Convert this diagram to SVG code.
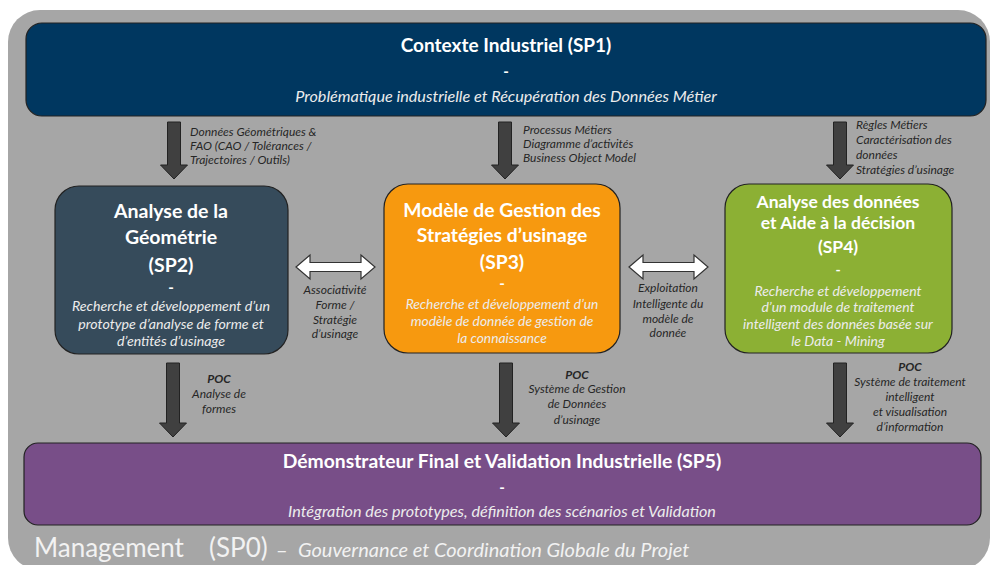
<svg xmlns="http://www.w3.org/2000/svg" width="992" height="565" viewBox="0 0 992 565">
<defs>
<style>
text{font-family:Lato,"Open Sans","Liberation Sans",sans-serif}
.box{stroke:#222;stroke-width:1.2}
.t{fill:#fff;font-weight:bold;text-anchor:middle}
.s{fill:#ececec;font-style:italic;text-anchor:middle}
.lab{fill:#262626;font-style:italic;font-size:12px}
.labc{fill:#262626;font-style:italic;font-size:12px;text-anchor:middle}
.down{fill:#404040;stroke:#222;stroke-width:1}
.dbl{fill:#fff;stroke:#333;stroke-width:1.2}
</style>
</defs>
<rect x="0" y="0" width="992" height="565" fill="#fff"/>
<rect x="8" y="10" width="982" height="560" rx="32" fill="#a6a6a6"/>

<g id="sp1">
<rect class="box" x="26" y="23" width="960" height="93" rx="16" fill="#003760"/>
<text class="t" x="506" y="52" font-size="19">Contexte Industriel (SP1)</text>
<text class="t" x="506" y="77" font-size="15">-</text>
<text class="s" x="506" y="102" font-size="16.2">Problématique industrielle et Récupération des Données Métier</text>
</g>

<g id="sp2">
<rect class="box" x="55" y="186" width="233" height="168" rx="24" fill="#364b5b"/>
<text class="t" x="171" y="218" font-size="19.5">Analyse de la</text>
<text class="t" x="171" y="244" font-size="19.5">Géométrie</text>
<text class="t" x="171" y="272" font-size="19.5">(SP2)</text>
<text class="t" x="171" y="293" font-size="15">-</text>
<text class="s" x="171" y="311" font-size="14.2">Recherche et développement d’un</text>
<text class="s" x="171" y="329" font-size="14.2">prototype d’analyse de forme et</text>
<text class="s" x="171" y="346" font-size="14.2">d’entités d’usinage</text>
</g>

<g id="sp3">
<rect class="box" x="384" y="184" width="236" height="169" rx="24" fill="#f7990f"/>
<text class="t" x="502" y="217" font-size="19.3">Modèle de Gestion des</text>
<text class="t" x="502" y="242" font-size="19.3">Stratégies d’usinage</text>
<text class="t" x="502" y="269" font-size="19.3">(SP3)</text>
<text class="t" x="502" y="289" font-size="15">-</text>
<text class="s" x="502" y="309" font-size="13.8">Recherche et développement d’un</text>
<text class="s" x="502" y="326" font-size="13.8">modèle de donnée de gestion de</text>
<text class="s" x="502" y="343" font-size="13.8">la connaissance</text>
</g>

<g id="sp4">
<rect class="box" x="725" y="184" width="227" height="169" rx="24" fill="#8cb034"/>
<text class="t" x="838" y="208" font-size="17.5">Analyse des données</text>
<text class="t" x="838" y="229" font-size="17.5">et Aide à la décision</text>
<text class="t" x="838" y="253" font-size="17.5">(SP4)</text>
<text class="t" x="838" y="275" font-size="14">-</text>
<text class="s" x="838" y="296" font-size="14">Recherche et développement</text>
<text class="s" x="838" y="312" font-size="14">d’un module de traitement</text>
<text class="s" x="838" y="329" font-size="14">intelligent des données basée sur</text>
<text class="s" x="838" y="346" font-size="14">le Data - Mining</text>
</g>

<g id="sp5">
<rect class="box" x="24" y="443" width="957" height="82" rx="14" fill="#784e88"/>
<text class="t" x="502" y="468" font-size="19.3">Démonstrateur Final et Validation Industrielle (SP5)</text>
<text class="t" x="502" y="493" font-size="15">-</text>
<text class="s" x="502" y="517" font-size="16.2">Intégration des prototypes, définition des scénarios et Validation</text>
</g>

<g id="sp0">
<text y="557" font-size="26" fill="#f2f2f2"><tspan x="34">Management</tspan><tspan x="209">(SP0)</tspan><tspan x="276" font-size="20">–</tspan><tspan x="298" font-size="20" font-style="italic">Gouvernance et Coordination Globale du Projet</tspan></text>
</g>

<g id="connectors">
<polygon class="down" points="167.5,122 180.5,122 180.5,165 187.5,165 174,179 160.5,165 167.5,165"/>
<polygon class="down" points="498.5,122 511.5,122 511.5,165 518.5,165 505,179 491.5,165 498.5,165"/>
<polygon class="down" points="833.5,122 846.5,122 846.5,165 853.5,165 840,179 826.5,165 833.5,165"/>
<polygon class="down" points="166.5,363 179.5,363 179.5,423 186.5,423 173,437 159.5,423 166.5,423"/>
<polygon class="down" points="499.5,363 512.5,363 512.5,423 519.5,423 506,437 492.5,423 499.5,423"/>
<polygon class="down" points="833.5,363 846.5,363 846.5,423 853.5,423 840,437 826.5,423 833.5,423"/>
<polygon class="dbl" points="296,267 310,255 310,262.5 361,262.5 361,255 375,267 361,279 361,271.5 310,271.5 310,279"/>
<polygon class="dbl" points="629,267 643,255 643,262.5 694,262.5 694,255 708,267 694,279 694,271.5 643,271.5 643,279"/>
</g>

<g id="labels">
<text class="lab" x="190" y="136">Données Géométriques &amp;</text>
<text class="lab" x="190" y="150">FAO (CAO / Tolérances /</text>
<text class="lab" x="190" y="164">Trajectoires / Outils)</text>
<text class="lab" x="523" y="134">Processus Métiers</text>
<text class="lab" x="523" y="148">Diagramme d’activités</text>
<text class="lab" x="523" y="162">Business Object Model</text>
<text class="lab" x="856" y="129">Règles Métiers</text>
<text class="lab" x="856" y="144">Caractérisation des</text>
<text class="lab" x="856" y="159">données</text>
<text class="lab" x="856" y="174">Stratégies d’usinage</text>
<text class="labc" x="335" y="294">Associativité</text>
<text class="labc" x="335" y="309">Forme /</text>
<text class="labc" x="335" y="324">Stratégie</text>
<text class="labc" x="335" y="338">d’usinage</text>
<text class="labc" x="668" y="292">Exploitation</text>
<text class="labc" x="668" y="308">Intelligente du</text>
<text class="labc" x="668" y="323">modèle de</text>
<text class="labc" x="668" y="337">donnée</text>
<text class="labc" x="219" y="383" font-weight="bold">POC</text>
<text class="labc" x="219" y="398">Analyse de</text>
<text class="labc" x="219" y="413">formes</text>
<text class="labc" x="577" y="379" font-weight="bold">POC</text>
<text class="labc" x="577" y="393">Système de Gestion</text>
<text class="labc" x="577" y="408">de Données</text>
<text class="labc" x="577" y="424">d’usinage</text>
<text class="labc" x="910" y="371" font-weight="bold">POC</text>
<text class="labc" x="910" y="386">Système de traitement</text>
<text class="labc" x="910" y="401">intelligent</text>
<text class="labc" x="910" y="416">et visualisation</text>
<text class="labc" x="910" y="431">d’information</text>
</g>
</svg>
